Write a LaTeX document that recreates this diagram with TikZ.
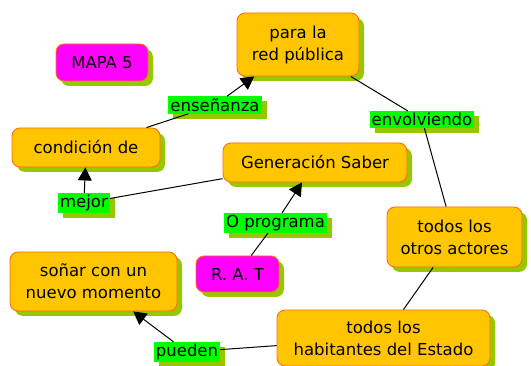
\documentclass[tikz,border=0pt]{standalone}
\usepackage{fontspec}
\setmainfont{DejaVu Sans}
\usetikzlibrary{shadows,arrows.meta}
\definecolor{naranja}{RGB}{255,198,0}
\definecolor{borde}{RGB}{255,110,20}
\definecolor{sombra}{RGB}{150,200,0}
\definecolor{verde}{RGB}{0,255,0}
\definecolor{rosa}{RGB}{255,0,255}

\begin{document}
\begin{tikzpicture}[x=1pt,y=-1pt,
  font=\fontsize{16.5}{22}\selectfont,
  concepto/.style={rectangle,rounded corners=8pt,draw=borde,line width=0.9pt,fill=naranja,align=center,inner sep=0pt,
    drop shadow={shadow xshift=5pt,shadow yshift=-5pt,fill=sombra,opacity=1}},
  enlace/.style={rectangle,fill=verde,inner sep=2pt,
    drop shadow={shadow xshift=5pt,shadow yshift=-5pt,fill=sombra,opacity=1}},
  flecha/.style={-{Triangle[width=14pt,length=13pt]}}]
\useasboundingbox (0,0) rectangle (531,366);

\node[concepto,fill=rosa,minimum width=92pt,minimum height=37pt] (c1) at (102,62.5) {MAPA 5};
\node[concepto,minimum width=122pt,minimum height=63pt] (c2) at (298,44.5) {para la\\red pública};
\node[concepto,minimum width=148pt,minimum height=39pt] (c3) at (86,147.5) {condición de};
\node[concepto,minimum width=184pt,minimum height=39pt] (c4) at (315,162.5) {Generación Saber};
\node[concepto,minimum width=135pt,minimum height=60pt] (c5) at (454.5,237) {todos los\\otros actores};
\node[concepto,fill=rosa,minimum width=83pt,minimum height=36pt] (c6) at (237.5,274) {R. A. T};
\node[concepto,minimum width=167pt,minimum height=59pt] (c7) at (93.5,281.5) {soñar con un\\nuevo momento};
\node[concepto,minimum width=213pt,minimum height=56pt] (c8) at (383.5,338) {todos los\\habitantes del Estado};

\node[enlace] (e1) at (215,105) {enseñanza};
\node[enlace] (e2) at (84,203) {mejor};
\node[enlace] (e3) at (422,119.5) {envolviendo};
\node[enlace] (e4) at (275.5,223) {O programa};
\node[enlace] (e5) at (187,352) {pueden};

\draw[line width=1pt] (c3)--(e1);
\draw[line width=1pt,flecha] (e1)--(c2);
\draw[line width=1pt] (c4)--(e2);
\draw[line width=1pt,flecha] (e2)--(c3);
\draw[line width=1pt] (c2)--(e3)--(c5);
\draw[line width=1pt] (c6)--(e4);
\draw[line width=1pt,flecha] (e4)--(c4);
\draw[line width=1pt] (c5)--(c8);
\draw[line width=1pt] (c8)--(e5);
\draw[line width=1pt,flecha] (e5)--(c7);
\end{tikzpicture}
\end{document}
